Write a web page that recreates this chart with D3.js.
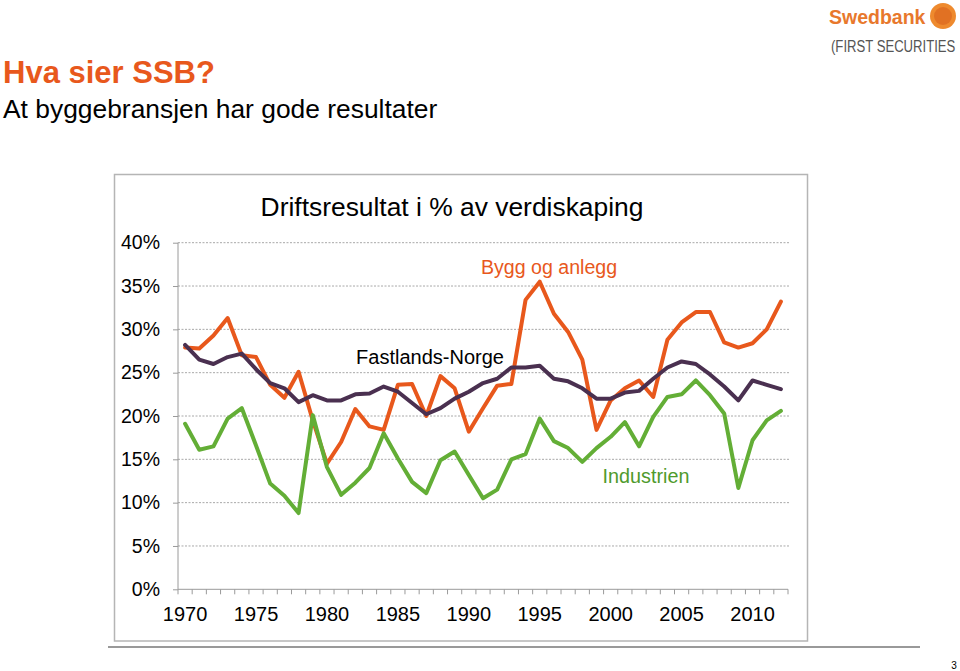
<!DOCTYPE html>
<html><head><meta charset="utf-8">
<script src="https://cdn.jsdelivr.net/npm/d3@7"></script>
<style>
html,body{margin:0;padding:0;background:#fff;}
svg{display:block;font-family:"Liberation Sans",Arial,sans-serif;}
</style></head>
<body>
<svg id="c" width="960" height="671"></svg>
<script>
const years = d3.range(1970, 2013);
const byggOgAnlegg = [27.9,27.8,29.3,31.3,27.0,26.8,23.6,22.1,25.1,19.5,14.5,17.0,20.8,18.8,18.4,23.6,23.7,20.0,24.6,23.2,18.2,20.9,23.5,23.7,33.4,35.5,31.8,29.7,26.5,18.4,21.8,23.2,24.1,22.2,28.8,30.8,32.0,32.0,28.5,27.9,28.4,30.0,33.2];
const fastlandsNorge = [28.2,26.5,26.0,26.8,27.2,25.4,23.8,23.2,21.6,22.4,21.8,21.8,22.5,22.6,23.4,22.8,21.5,20.2,20.9,22.0,22.8,23.8,24.3,25.6,25.6,25.8,24.3,24.0,23.2,22.0,22.0,22.7,22.9,24.3,25.6,26.3,26.0,24.8,23.4,21.8,24.1,23.6,23.1];
const industrien = [19.1,16.1,16.5,19.7,20.9,16.6,12.2,10.8,8.8,20.1,14.1,10.9,12.3,14.0,18.0,15.1,12.4,11.1,14.9,15.9,13.2,10.5,11.5,15.0,15.6,19.7,17.1,16.3,14.7,16.3,17.6,19.3,16.5,19.9,22.2,22.5,24.1,22.4,20.3,11.7,17.2,19.5,20.6];
const yTicks = [0,5,10,15,20,25,30,35,40];
const xLabelYears = [1970,1975,1980,1985,1990,1995,2000,2005,2010];

const series = [
  {name:"Bygg og anlegg", values:byggOgAnlegg, color:"#E8581C"},
  {name:"Industrien", values:industrien, color:"#63AE36"},
  {name:"Fastlands-Norge", values:fastlandsNorge, color:"#4A3050"}
];

const svg = d3.select("#c");
const orange = "#E8581C";

// Header
svg.append("text").attr("x",3).attr("y",83).attr("font-size",31).attr("font-weight","bold")
  .attr("fill",orange).text("Hva sier SSB?");
svg.append("text").attr("x",3).attr("y",118).attr("font-size",26.4).attr("fill","#000")
  .text("At byggebransjen har gode resultater");

// Logo
svg.append("text").attr("x",829).attr("y",24).attr("font-size",19.5).attr("font-weight","bold")
  .attr("fill","#E8782C").text("Swedbank");
svg.append("circle").attr("cx",943).attr("cy",16).attr("r",13).attr("fill","#EE8A2E");
svg.append("circle").attr("cx",943).attr("cy",16).attr("r",9).attr("fill","#D8601C").attr("opacity",0.6);
svg.append("g").attr("transform","translate(831,52) scale(0.82,1)")
  .append("text").attr("x",0).attr("y",0).attr("font-size",16).attr("fill","#555").text("(FIRST SECURITIES");

// Chart frame
svg.append("rect").attr("x",114.5).attr("y",174.5).attr("width",693).attr("height",466.5)
  .attr("fill","#fff").attr("stroke","#b5b5b5").attr("stroke-width",1.5);

// Footer
svg.append("line").attr("x1",108).attr("x2",920).attr("y1",647).attr("y2",647).attr("stroke","#777").attr("stroke-width",1.3);
svg.append("text").attr("x",954).attr("y",669).attr("font-size",10).attr("text-anchor","middle").attr("fill","#000").text("3");

// Scales
const x = d3.scaleBand().domain(years).range([178, 788]).padding(0);
const y = d3.scaleLinear().domain([0,40]).range([589.3, 242.7]);
const cx = d => x(d) + x.bandwidth()/2;

// Gridlines
svg.append("g").selectAll("line").data(yTicks.filter(t => t>0)).join("line")
  .attr("x1",178).attr("x2",790).attr("y1",d=>y(d)).attr("y2",d=>y(d))
  .attr("stroke","#a8a8a8").attr("stroke-width",1).attr("stroke-dasharray","2,1.5");

// Y axis
const yAxis = d3.axisLeft(y).tickValues(yTicks).tickFormat(d => d + "%").tickSize(5).tickPadding(13);
const gy = svg.append("g").attr("transform","translate(178,0)").call(yAxis);
gy.select(".domain").attr("stroke","#9a9a9a").attr("d","M0," + y(40) + "V" + y(0));
gy.selectAll(".tick line").attr("stroke","#9a9a9a");
gy.selectAll(".tick text").attr("font-size",19.5).attr("fill","#000")
  .attr("font-family","Liberation Sans, Arial, sans-serif");

// X axis
const gx = svg.append("g").attr("transform","translate(0," + y(0) + ")");
gx.append("line").attr("x1",178).attr("x2",788).attr("stroke","#9a9a9a");
const bounds = years.map(d => x(d)).concat([x(years[years.length-1]) + x.bandwidth()]);
gx.selectAll("line.tk").data(bounds).join("line").attr("class","tk")
  .attr("x1",d=>d).attr("x2",d=>d).attr("y1",0).attr("y2",5).attr("stroke","#9a9a9a");
gx.selectAll("text").data(xLabelYears).join("text")
  .attr("x",d=>cx(d)).attr("y",32).attr("text-anchor","middle")
  .attr("font-size",20).attr("fill","#000").text(d=>d);

// Chart title
svg.append("text").attr("x",452).attr("y",216).attr("text-anchor","middle")
  .attr("font-size",26.4).attr("fill","#000").text("Driftsresultat i % av verdiskaping");

// Lines
const line = d3.line().x((d,i)=>cx(years[i])).y(d=>y(d));
svg.append("g").selectAll("path").data(series).join("path")
  .attr("d", s => line(s.values)).attr("fill","none").attr("stroke", s=>s.color)
  .attr("stroke-width",4).attr("stroke-linejoin","round").attr("stroke-linecap","round");

// Series labels
svg.append("text").attr("x",549).attr("y",274).attr("text-anchor","middle").attr("font-size",19.6)
  .attr("fill",orange).text("Bygg og anlegg");
svg.append("text").attr("x",430).attr("y",364).attr("text-anchor","middle").attr("font-size",20)
  .attr("fill","#000").text("Fastlands-Norge");
svg.append("text").attr("x",646).attr("y",483).attr("text-anchor","middle").attr("font-size",19.8)
  .attr("fill","#4F9A2C").text("Industrien");
</script>
</body></html>
